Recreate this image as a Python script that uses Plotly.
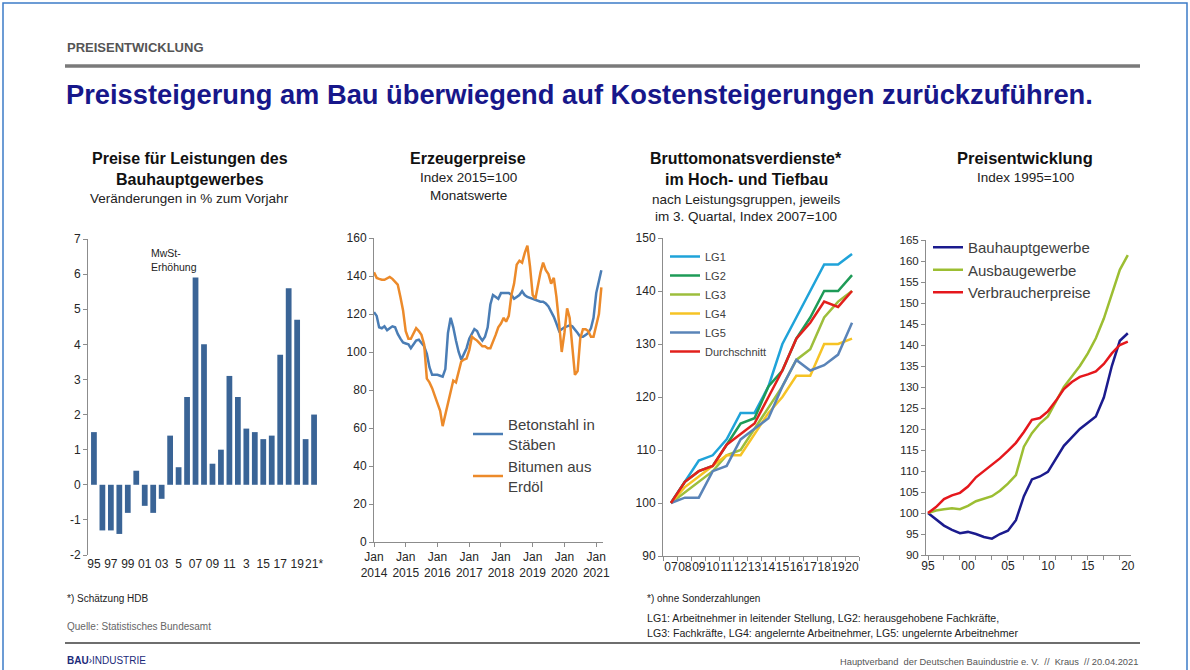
import plotly.graph_objects as go
import pandas as pd

W, H = 1190, 670
def X(px): return px / W
def Y(py): return 1 - py / H

# ---------- Data ----------
# Chart 1: Preise Bauhauptgewerbe, % change to previous year
bar_years = list(range(1995, 2022))
bar_change = [1.5, -1.3, -1.3, -1.4, -0.8, 0.4, -0.6, -0.8, -0.4, 1.4, 0.5, 2.5, 5.9, 4.0,
              0.6, 1.0, 3.1, 2.5, 1.6, 1.5, 1.3, 1.4, 3.7, 5.6, 4.7, 1.3, 2.0]
bar_tickvals = list(range(1995, 2022, 2))
bar_ticktext = ["95", "97", "99", "01", "03", "5", "07", "09", "11", "3", "15", "17", "19", "21*"]
bar_ytickvals = [-2, -1, 0, 1, 2, 3, 4, 5, 6, 7]
bar_yticktext = ["-2", "-1", "0", "1", "2", "3", "4", "5", "6", "7"]

# Chart 2: Erzeugerpreise, monthly, Jan 2014 - Mar 2021
months = pd.date_range("2014-01-01", "2021-03-01", freq="MS")
betonstahl = [121, 119, 113, 112.5, 113.5, 111.5, 112.5, 113.5, 113, 109.5, 107, 105,
              104.5, 104, 102, 104, 106, 106.5, 104.5, 103, 99, 92, 88, 88,
              88, 87.5, 87, 91, 110, 118, 113, 106, 100, 96, 99, 102,
              107, 110, 112, 111, 108, 106, 108, 113, 125, 130, 129, 128,
              131, 131, 131, 131, 130, 128, 129, 130, 132, 130, 129, 128.5,
              128, 127.5, 127, 126.5, 126.5, 125.5, 124, 121.5, 118.5, 115, 111, 112,
              113, 113.5, 114, 113.5, 112, 110, 108, 108, 109, 110, 112.5, 118,
              131, 138, 143]
bitumen = [142, 139, 138.5, 138, 138, 139, 139.5, 138.5, 137, 135.5, 129, 122,
           111, 107, 107, 110, 112.5, 111, 109, 104, 86, 84, 81, 77,
           73, 69, 61, 67, 74, 80, 85, 84, 89, 95, 96, 96.5,
           101, 108, 107, 106, 104.5, 103, 103, 102, 102, 105, 109, 113,
           115, 118, 116, 119, 130, 136, 146, 148, 147, 152, 156, 145,
           130, 128, 135, 142, 147, 143, 141, 136, 139, 129, 115, 100,
           110, 123, 118, 102, 88, 90, 107, 112, 112, 111, 108, 108,
           114, 120, 134]
jan_ticks = pd.date_range("2014-01-01", "2021-01-01", freq="YS")
jan_text = [f"Jan<br>{d.year}" for d in jan_ticks]

# Chart 3: Bruttomonatsverdienste, Index 2007=100
lg_years = list(range(2007, 2021))
lg_ticktext = ["07", "08", "09", "10", "11", "12", "13", "14", "15", "16", "17", "18", "19", "20"]
lg1 = [100, 104, 108, 109, 112, 117, 117, 122, 130, 135, 140, 145, 145, 147]
lg2 = [100, 104, 106, 107, 111, 115, 116, 122, 125, 131, 135, 140, 140, 143]
lg3 = [100, 102, 104, 106, 109, 110, 114, 118, 122, 127, 129, 135, 138, 140]
lg4 = [100, 103, 105, 107, 109, 109, 113, 117, 120, 124, 124, 130, 130, 131]
lg5 = [100, 101, 101, 106, 107, 112, 114, 116, 122, 127, 125, 126, 128, 134]
lg_avg = [100, 104, 106, 107, 111, 113, 115, 120, 125, 131, 134, 138, 137, 140]

# Chart 4: Preisentwicklung, Index 1995=100
pe_years = list(range(1995, 2021))
bauhaupt = [100, 98.5, 97, 96, 95.2, 95.5, 95, 94.3, 93.9, 95, 95.8, 98.3, 104, 108,
            108.7, 109.8, 113, 116, 118, 120, 121.5, 123, 127.5, 135, 141, 142.8]
ausbau = [100, 100.6, 100.9, 101.1, 100.9, 101.7, 102.8, 103.4, 104, 105.3, 107, 109,
          115.8, 119, 121.3, 123, 126.5, 130, 132.5, 135, 138, 141.6, 146.3, 152.3, 157.9, 161.4]
verbraucher = [100, 101.4, 103.3, 104.2, 104.8, 106.3, 108.5, 110, 111.3, 113, 114.8, 116.7,
               119.3, 122.2, 122.6, 124.2, 126.7, 129.5, 131.2, 132.4, 133, 133.7, 135.5, 138, 140, 140.8]
pe_tickvals = [1995, 2000, 2005, 2010, 2015, 2020]
pe_ticktext = ["95", "00", "05", "10", "15", "20"]

# ---------- Figure ----------
FONT = "Arial, Liberation Sans, sans-serif"
fig = go.Figure()

fig.add_trace(go.Bar(x=bar_years, y=bar_change, marker_color="#3A6496", width=0.68,
                     marker_line_width=0, xaxis="x", yaxis="y", showlegend=False))

fig.add_trace(go.Scatter(x=months, y=betonstahl, mode="lines", name="Betonstahl in<br>Stäben",
                         line=dict(color="#4A7DB5", width=2.5), xaxis="x2", yaxis="y2", legend="legend"))
fig.add_trace(go.Scatter(x=months, y=bitumen, mode="lines", name="Bitumen aus<br>Erdöl",
                         line=dict(color="#EC8A2A", width=2.5), xaxis="x2", yaxis="y2", legend="legend"))

lg_series = [("LG1", lg1, "#1FA3D9"), ("LG2", lg2, "#1E9B57"), ("LG3", lg3, "#9DBE3C"),
             ("LG4", lg4, "#F6C325"), ("LG5", lg5, "#5A84B8"), ("Durchschnitt", lg_avg, "#E2201C")]
for name, vals, col in lg_series:
    fig.add_trace(go.Scatter(x=lg_years, y=vals, mode="lines", name=name,
                             line=dict(color=col, width=2.5), xaxis="x3", yaxis="y3", legend="legend2"))

pe_series = [("Bauhauptgewerbe", bauhaupt, "#1B1B8E"), ("Ausbaugewerbe", ausbau, "#9CBE32"),
             ("Verbraucherpreise", verbraucher, "#E5171C")]
for name, vals, col in pe_series:
    fig.add_trace(go.Scatter(x=pe_years, y=vals, mode="lines", name=name,
                             line=dict(color=col, width=2.5), xaxis="x4", yaxis="y4", legend="legend3"))

axis_common = dict(showline=True, linecolor="#8C8C8C", linewidth=1, showgrid=False, zeroline=False,
                   ticks="outside", ticklen=4, tickcolor="#8C8C8C", automargin=False,
                   tickfont=dict(family=FONT, size=12, color="#262626"))

fig.update_layout(
    template="none",
    width=W, height=H, margin=dict(l=0, r=0, t=0, b=0, pad=0, autoexpand=False),
    paper_bgcolor="white", plot_bgcolor="white",
    font=dict(family=FONT, color="#262626"),
    xaxis=dict(domain=[X(88), X(320)], anchor="y", range=[1994.3, 2021.7],
               tickmode="array", tickvals=bar_tickvals, ticktext=bar_ticktext, tickangle=0,
               showline=False, showgrid=False, zeroline=False, ticks="", automargin=False,
               tickfont=dict(family=FONT, size=12, color="#262626")),
    yaxis=dict(domain=[Y(555), Y(239)], anchor="x", range=[-2, 7],
               tickmode="array", tickvals=bar_ytickvals, ticktext=bar_yticktext, **axis_common),
    xaxis2=dict(domain=[X(374), X(603)], anchor="y2", range=["2014-01-01", "2021-03-20"],
                tickmode="array", tickvals=jan_ticks, ticktext=jan_text, tickangle=0, **axis_common),
    yaxis2=dict(domain=[Y(542), Y(238)], anchor="x2", range=[0, 160], dtick=20, **axis_common),
    xaxis3=dict(domain=[X(663), X(859)], anchor="y3", range=[2006.43, 2020.5],
                tickmode="array", tickvals=lg_years, ticktext=lg_ticktext, tickangle=0,
                showline=True, linecolor="#8C8C8C", showgrid=False, zeroline=False, ticks="",
                automargin=False,
                minor=dict(ticks="outside", tick0=2006.5, dtick=1, ticklen=4, tickcolor="#8C8C8C",
                           showgrid=False),
                tickfont=dict(family=FONT, size=12, color="#262626")),
    yaxis3=dict(domain=[Y(556), Y(238)], anchor="x3", range=[90, 150], dtick=10, **axis_common),
    xaxis4=dict(domain=[X(926), X(1131)], anchor="y4", range=[1994.75, 2020.4],
                tickmode="array", tickvals=pe_tickvals, ticktext=pe_ticktext, tickangle=0,
                showline=True, linecolor="#8C8C8C", showgrid=False, zeroline=False, ticks="",
                automargin=False,
                minor=dict(ticks="outside", tick0=1995, dtick=2, ticklen=4, tickcolor="#8C8C8C",
                           showgrid=False),
                tickfont=dict(family=FONT, size=12, color="#262626")),
    yaxis4=dict(domain=[Y(555), Y(240)], anchor="x4", range=[90, 165], dtick=5,
                **{**axis_common, "tickfont": dict(family=FONT, size=11.5, color="#262626")}),
    legend=dict(x=X(468), y=Y(408), xanchor="left", yanchor="top", bgcolor="rgba(0,0,0,0)",
                font=dict(family=FONT, size=15, color="#404040"), tracegroupgap=0,
                itemwidth=30, borderwidth=0),
    legend2=dict(x=X(665), y=Y(242), xanchor="left", yanchor="top", bgcolor="rgba(0,0,0,0)",
                 font=dict(family=FONT, size=11, color="#404040"), itemwidth=30, borderwidth=0),
    legend3=dict(x=X(928), y=Y(231), xanchor="left", yanchor="top", bgcolor="rgba(0,0,0,0)",
                 font=dict(family=FONT, size=15, color="#404040"), itemwidth=30, borderwidth=0),
)

ann = []
def text(px, py, s, size, color="#1a1a1a", bold=False, xanchor="left", yanchor="middle"):
    if bold:
        s = f"<b>{s}</b>"
    ann.append(dict(x=X(px), y=Y(py), xref="paper", yref="paper", text=s, showarrow=False,
                    xanchor=xanchor, yanchor=yanchor, font=dict(family=FONT, size=size, color=color)))

text(65, 47, "PREISENTWICKLUNG", 13, "#555555", bold=True)
text(64, 95, "Preissteigerung am Bau überwiegend auf Kostensteigerungen zurückzuführen.", 27.3, "#17178A", bold=True)

# Chart titles
text(190, 159, "Preise für Leistungen des", 16, "#111111", bold=True, xanchor="center")
text(190, 179, "Bauhauptgewerbes", 16, "#111111", bold=True, xanchor="center")
text(190, 198, "Veränderungen in % zum Vorjahr", 13.5, "#222222", xanchor="center")

text(468, 159, "Erzeugerpreise", 16, "#111111", bold=True, xanchor="center")
text(468, 178, "Index 2015=100", 13.5, "#222222", xanchor="center")
text(468, 195, "Monatswerte", 13.5, "#222222", xanchor="center")

text(746, 159, "Bruttomonatsverdienste*", 16, "#111111", bold=True, xanchor="center")
text(746, 179, "im Hoch- und Tiefbau", 16, "#111111", bold=True, xanchor="center")
text(746, 199, "nach Leistungsgruppen, jeweils", 13.5, "#222222", xanchor="center")
text(746, 216, "im 3. Quartal, Index 2007=100", 13.5, "#222222", xanchor="center")

text(1025, 158, "Preisentwicklung", 16.5, "#111111", bold=True, xanchor="center")
text(1025, 177, "Index 1995=100", 13.5, "#222222", xanchor="center")

# Footnotes
text(65, 598, "*) Schätzung HDB", 10, "#222222")
text(65, 626, "Quelle: Statistisches Bundesamt", 10, "#666666")
text(645, 598, "*) ohne Sonderzahlungen", 10, "#222222")
text(645, 618, "LG1: Arbeitnehmer in leitender Stellung, LG2: herausgehobene Fachkräfte,", 10.6, "#222222")
text(645, 633, "LG3: Fachkräfte, LG4: angelernte Arbeitnehmer, LG5: ungelernte Arbeitnehmer", 10.6, "#222222")
text(65, 660, "<b>BAU</b>\u203aINDUSTRIE", 10, "#1B2A7A")
text(1140, 662, "Hauptverband  der Deutschen Bauindustrie e. V.  //  Kraus  // 20.04.2021", 9.3, "#555555",
     xanchor="right")

# In-chart annotation (chart 1)
ann.append(dict(x=2001.5, y=6.4, xref="x", yref="y", text="MwSt-<br>Erhöhung", showarrow=False,
                xanchor="left", yanchor="middle", align="left",
                font=dict(family=FONT, size=10.5, color="#222222")))

fig.update_layout(annotations=ann)

shapes = [
    dict(type="rect", xref="paper", yref="paper", x0=X(3), x1=X(1187), y0=Y(700), y1=Y(3),
         line=dict(color="#3C7CC8", width=1.5), fillcolor="rgba(0,0,0,0)", layer="below"),
    dict(type="line", xref="paper", yref="paper", x0=X(65), x1=X(1140), y0=Y(66), y1=Y(66),
         line=dict(color="#7A7A7A", width=3.5)),
    dict(type="line", xref="paper", yref="paper", x0=X(65), x1=X(1140), y0=Y(643), y1=Y(643),
         line=dict(color="#6E6E6E", width=2)),
]
fig.update_layout(shapes=shapes)

fig.write_html("out.html",
               config={"displayModeBar": False},
               post_script="document.body.style.margin='0';document.body.style.padding='0';"
                           "document.body.style.overflow='hidden';")
